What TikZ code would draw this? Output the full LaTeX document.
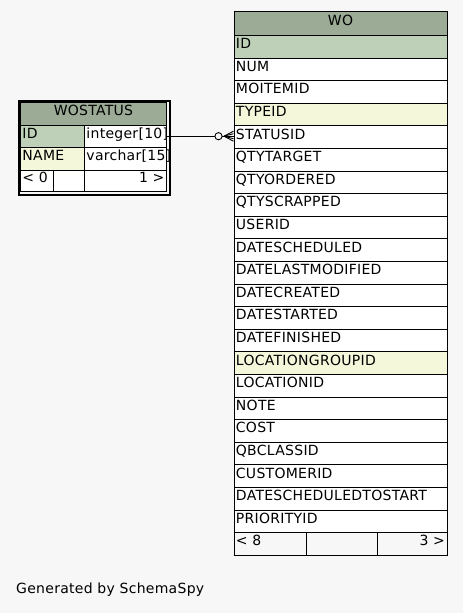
\documentclass[tikz,border=0pt]{standalone}
\usepackage{fontspec}
\setmainfont[LetterSpace=2]{DejaVu Sans}
\usetikzlibrary{calc}
\definecolor{bg}{HTML}{F7F7F7}
\definecolor{hdr}{HTML}{9BAB96}
\definecolor{pk}{HTML}{BED1B8}
\definecolor{idx}{HTML}{F4F7DA}
\begin{document}
\begin{tikzpicture}[x=1pt,y=-1pt,
  font=\fontsize{14}{16}\selectfont,
  cell/.style={draw=black, line width=0.9pt, fill=white, anchor=north west,
    inner xsep=2pt, inner ysep=0pt, text height=10pt, text depth=6pt},
  lcell/.style={cell, align=left},
  rcell/.style={cell, align=right},
  ccell/.style={cell, align=center},
  frame/.style={draw=black, line width=2pt, anchor=north west, inner sep=0pt},
  link/.style={draw=black, line width=0.9pt}]
\useasboundingbox[fill=bg] (0,0) rectangle (463,613);

% ---------- WOSTATUS ----------
\node[frame, minimum width=151pt, minimum height=94pt] (wsframe) at (17.5,99.5) {};
\node[ccell, fill=hdr, text width=142pt, minimum height=22.5pt] (wshead) at (20,102) {WOSTATUS};
\node[lcell, fill=pk, text width=60pt, minimum height=22.5pt] (wsid) at (20,124.5) {ID};
\node[lcell, text width=78pt, minimum height=22.5pt] (wsidtype) at (84,124.5) {integer[10]};
\node[lcell, fill=idx, text width=60pt, minimum height=22.5pt] (wsname) at (20,147) {NAME};
\node[lcell, text width=78pt, minimum height=22.5pt] (wsnametype) at (84,147) {varchar[15]};
\node[lcell, text width=28.5pt, minimum height=21.5pt] (wsf1) at (20,169.5) {< 0};
\node[lcell, text width=27.5pt, minimum height=21.5pt] (wsf2) at (52.5,169.5) {};
\node[rcell, text width=78pt, minimum height=21.5pt] (wsf3) at (84,169.5) {1 >};

% ---------- WO ----------
\node[ccell, fill=hdr, text width=209pt, minimum height=24pt] (wohead) at (233.5,11) {WO};
\foreach \n/\f [count=\i from 0] in {ID/pk, NUM/white, MOITEMID/white, TYPEID/idx,
  STATUSID/white, QTYTARGET/white, QTYORDERED/white, QTYSCRAPPED/white, USERID/white,
  DATESCHEDULED/white, DATELASTMODIFIED/white, DATECREATED/white, DATESTARTED/white,
  DATEFINISHED/white, LOCATIONGROUPID/idx, LOCATIONID/white, NOTE/white, COST/white,
  QBCLASSID/white, CUSTOMERID/white, DATESCHEDULEDTOSTART/white, PRIORITYID/white}
{
  \node[lcell, fill=\f, text width=209pt, minimum height=22.6pt] (wo\i) at (233.5,{35+22.6*\i}) {\n};
}
\node[lcell, fill=bg, text width=68.5pt, minimum height=22.6pt] (wof1) at (233.5,532.2) {< 8};
\node[lcell, fill=bg, text width=66.5pt, minimum height=22.6pt] (wof2) at (306,532.2) {};
\node[rcell, fill=bg, text width=66pt, minimum height=22.6pt] (wof3) at (376.5,532.2) {3 >};

% ---------- connector ----------
\coordinate (tip) at (wsidtype.east -| wo4.west);
\draw[link] (wsidtype.east) -- (tip);
\coordinate (apex) at ($(tip)+(-9.5,0)$);
\draw[link] (apex) -- ($(tip)+(0,-5)$);
\draw[link] (apex) -- ($(tip)+(0,5)$);
\draw[link] (apex) -- ($(tip)+(0,-2.5)$);
\draw[link] (apex) -- ($(tip)+(0,2.5)$);
\draw[link, fill=bg] ($(tip)+(-15,0)$) circle[radius=3.6];

% ---------- footer text ----------
\node[anchor=west, inner sep=0pt] (gen) at (16,590) {Generated by SchemaSpy};
\end{tikzpicture}
\end{document}
